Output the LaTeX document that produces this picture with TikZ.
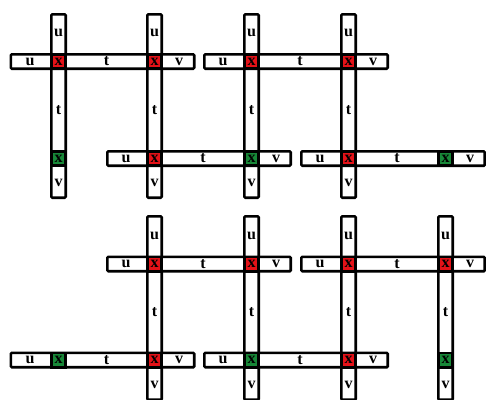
\documentclass[tikz,border=0pt]{standalone}
\usepackage{fontspec}
\setmainfont{Liberation Serif}
\definecolor{cellred}{RGB}{228,18,24}
\definecolor{cellgreen}{RGB}{24,136,56}
\begin{document}
\begin{tikzpicture}[x=1pt,y=-1pt,
  bar/.style={draw=black, fill=white, line width=2.6pt, rounded corners=1pt, inner sep=0pt},
  lbl/.style={inner sep=0pt, font=\fontsize{16}{16}\selectfont\bfseries},
  cell/.style={draw=black, line width=2.6pt, inner sep=0pt, minimum width=14.4pt, minimum height=14.4pt, font=\fontsize{16}{16}\selectfont\bfseries}]
\useasboundingbox (0,0) rectangle (486,399);
\def\cA{58.5}\def\cB{154.5}\def\cC{251.5}\def\cD{348.5}\def\cE{445.5}
\def\rA{61.5}\def\rB{158.5}\def\rC{264}\def\rD{360}
\newcommand\mkvbar[4]{%
  \node[bar, minimum width=14.4pt, minimum height=183.4pt] (#1) at (#2,{(#3+#4)/2-4}) {};
  \node[lbl] (#1-u) at (#2,{#3-28.5}) {u};
  \node[lbl] (#1-t) at (#2,{(#3+#4)/2}) {t};
  \node[lbl] (#1-v) at (#2,{#4+24.5}) {v};}
\newcommand\mkhbar[4]{%
  \node[bar, minimum width=183.4pt, minimum height=14.4pt] (#1) at ({(#2+#3)/2-4},#4) {};
  \node[lbl] (#1-u) at ({#2-28.5},#4) {u};
  \node[lbl] (#1-t) at ({(#2+#3)/2},#4) {t};
  \node[lbl] (#1-v) at ({#3+24.5},#4) {v};}
\newcommand\mkcell[4]{\node[cell, fill=#4] (#1) at (#2,#3) {x};}
% vertical bars
\mkvbar{v1a}{\cA}{\rA}{\rB}
\mkvbar{v2a}{\cB}{\rA}{\rB}
\mkvbar{v3a}{\cC}{\rA}{\rB}
\mkvbar{v4a}{\cD}{\rA}{\rB}
\mkvbar{v2b}{\cB}{\rC}{\rD}
\mkvbar{v3b}{\cC}{\rC}{\rD}
\mkvbar{v4b}{\cD}{\rC}{\rD}
\mkvbar{v5b}{\cE}{\rC}{\rD}
% horizontal bars
\mkhbar{h1a}{\cA}{\cB}{\rA}
\mkhbar{h1b}{\cC}{\cD}{\rA}
\mkhbar{h2a}{\cB}{\cC}{\rB}
\mkhbar{h2b}{\cD}{\cE}{\rB}
\mkhbar{h3a}{\cB}{\cC}{\rC}
\mkhbar{h3b}{\cD}{\cE}{\rC}
\mkhbar{h4a}{\cA}{\cB}{\rD}
\mkhbar{h4b}{\cC}{\cD}{\rD}
% cells
\mkcell{x11}{\cA}{\rA}{cellred}
\mkcell{x21}{\cB}{\rA}{cellred}
\mkcell{x31}{\cC}{\rA}{cellred}
\mkcell{x41}{\cD}{\rA}{cellred}
\mkcell{x12}{\cA}{\rB}{cellgreen}
\mkcell{x22}{\cB}{\rB}{cellred}
\mkcell{x32}{\cC}{\rB}{cellgreen}
\mkcell{x42}{\cD}{\rB}{cellred}
\mkcell{x52}{\cE}{\rB}{cellgreen}
\mkcell{x23}{\cB}{\rC}{cellred}
\mkcell{x33}{\cC}{\rC}{cellred}
\mkcell{x43}{\cD}{\rC}{cellred}
\mkcell{x53}{\cE}{\rC}{cellred}
\mkcell{x14}{\cA}{\rD}{cellgreen}
\mkcell{x24}{\cB}{\rD}{cellred}
\mkcell{x34}{\cC}{\rD}{cellgreen}
\mkcell{x44}{\cD}{\rD}{cellred}
\mkcell{x54}{\cE}{\rD}{cellgreen}
\end{tikzpicture}
\end{document}
